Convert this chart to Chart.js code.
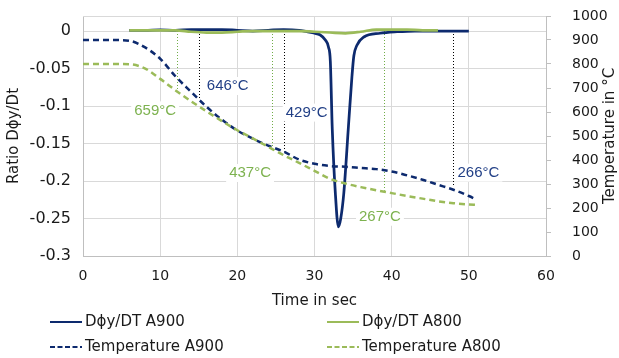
<!DOCTYPE html>
<html>
<head>
<meta charset="utf-8">
<script src="https://cdn.jsdelivr.net/npm/chart.js@4.4.1/dist/chart.umd.min.js"></script>
<style>
  html, body { margin: 0; padding: 0; background: #fff; }
  #wrap { width: 619px; height: 358px; }
</style>
</head>
<body>
<div id="wrap"><canvas id="chart" width="619" height="358"></canvas></div>
<script>
/* ===== Data ===== */
const tempTimes = [0, 2, 4, 6, 8, 10, 12, 14, 16, 18, 20, 22, 24, 26, 28, 30, 32, 34, 36, 38, 40, 42, 44, 46, 48, 50, 51];
const tempA900 = [900, 900, 900, 897, 870, 822, 748, 684, 622, 568, 523, 489, 460, 435, 402, 384, 375, 372, 367, 362, 352, 336, 318, 297, 276, 250, 235];
const tempA800 = [800, 800, 800, 799, 782, 738, 690, 645, 603, 562, 524, 490, 455, 420, 388, 355, 322, 302, 287, 274, 262, 250, 239, 228, 220, 215, 213];

const ratioTimesA900 = [6, 8, 10, 12, 14, 16, 18, 20, 22, 24, 26, 28, 29, 30, 30.7, 31.4, 31.8, 32.05, 32.3, 32.7, 33.1, 33.4, 33.8, 34.4, 34.85, 35.1, 35.5, 36.4, 38.5, 40.7, 43, 46, 48, 50];
const ratioA900 = [0.001, 0.001, 0.0015, 0.001, 0.002, 0.002, 0.002, 0.001, 0, 0.001, 0.002, 0.001, -0.001, -0.003, -0.005, -0.012, -0.021, -0.04, -0.13, -0.216, -0.261, -0.25, -0.216, -0.127, -0.061, -0.033, -0.019, -0.008, -0.003, -0.001, 0, 0, 0, 0];

const ratioTimesA800 = [6, 8, 10, 12, 14, 16, 18, 20, 22, 24, 26, 28, 30, 32, 34, 36, 38, 40, 42, 44, 46];
const ratioA800 = [0.001, 0.001, 0.001, 0.001, -0.001, -0.002, -0.002, -0.001, 0, 0, 0, 0, -0.001, -0.002, -0.003, -0.001, 0.002, 0.002, 0.002, 0.001, 0.001];

// vertical dotted markers: time, temperature where the line stops, label
const markerTimes = [12.2, 15, 24.5, 26, 39, 48];
const markerTemps = [686, 650, 450, 435, 272, 289];
const markerLabels = ["659°C", "646°C", "437°C", "429°C", "267°C", "266°C"];
const markerSeries = ["A800", "A900", "A800", "A900", "A800", "A900"];

const leftTicks = [-0.3, -0.25, -0.2, -0.15, -0.1, -0.05, 0];

/* ===== Styles ===== */
const BLUE = "#0d2a6e";
const GREEN = "#9bbb59";
const BLUE_TEXT = "#213f86";
const GREEN_TEXT = "#7db24f";
const GRID = "#d9d9d9";
const AXIS = "#bfbfbf";
const TEXT = "#404040";
const FONT = "'DejaVu Sans', sans-serif";
const LABEL_FONT = "'Liberation Sans', Arial, sans-serif";

// label offsets from the end of each marker line (px)
const labelOffsets = [[-22, 19], [29, -14], [-22, 25], [23, -39], [-4, 26], [25, -14]];

function pts(xs, ys) {
  return xs.map((x, i) => ({ x: x, y: ys[i] }));
}

// keep tick padding from pushing the plot area down
function noVPad(scale) {
  scale.paddingTop = 0;
  scale.paddingBottom = 0;
}

/* ===== Plugins ===== */
const frameAndMarkers = {
  id: "frameAndMarkers",
  beforeDatasetsDraw(chart) {
    const { ctx, chartArea: a, scales } = chart;
    ctx.save();
    ctx.strokeStyle = GRID;
    ctx.lineWidth = 1;
    ctx.beginPath();
    ctx.moveTo(a.left, a.top + 0.5);
    ctx.lineTo(a.right, a.top + 0.5);
    ctx.stroke();

    markerTimes.forEach((t, i) => {
      const x = Math.round(scales.x.getPixelForValue(t)) + 0.5;
      const y0 = scales.y.getPixelForValue(0);
      const y1 = scales.y2.getPixelForValue(markerTemps[i]);
      ctx.strokeStyle = markerSeries[i] === "A900" ? "#000" : "#70ad47";
      ctx.setLineDash([1, 2]);
      ctx.beginPath();
      ctx.moveTo(x, y0);
      ctx.lineTo(x, y1);
      ctx.stroke();
    });
    ctx.setLineDash([]);

    ctx.font = `15px ${LABEL_FONT}`;
    ctx.textAlign = "center";
    ctx.textBaseline = "middle";
    markerTimes.forEach((t, i) => {
      const x = scales.x.getPixelForValue(t) + labelOffsets[i][0];
      const y = scales.y2.getPixelForValue(markerTemps[i]) + labelOffsets[i][1];
      const w = ctx.measureText(markerLabels[i]).width + 6;
      ctx.fillStyle = "#fff";
      ctx.fillRect(x - w / 2, y - 9, w, 18);
      ctx.fillStyle = markerSeries[i] === "A900" ? BLUE_TEXT : GREEN_TEXT;
      ctx.fillText(markerLabels[i], x, y);
    });
    ctx.restore();
  },
  afterDraw(chart) {
    const { ctx, chartArea: a } = chart;
    ctx.save();
    // right axis title, reading upwards
    ctx.font = `15px ${FONT}`;
    ctx.fillStyle = "#1a1a1a";
    ctx.textAlign = "center";
    ctx.textBaseline = "middle";
    ctx.translate(610, (a.top + a.bottom) / 2);
    ctx.rotate(-Math.PI / 2);
    ctx.fillText("Temperature in °C", 0, 0);
    ctx.restore();

    // legend, two columns
    const cols = [50, 327];
    const rows = [322, 347];
    ctx.save();
    ctx.font = `15px ${FONT}`;
    ctx.textBaseline = "middle";
    ctx.textAlign = "left";
    chart.data.datasets.forEach((ds, i) => {
      const x = cols[i % 2];
      const y = rows[Math.floor(i / 2)];
      ctx.strokeStyle = ds.borderColor;
      ctx.lineWidth = 2;
      ctx.setLineDash(ds.borderDash && ds.borderDash.length ? [5, 2.5] : []);
      ctx.beginPath();
      ctx.moveTo(x, y);
      ctx.lineTo(x + 32, y);
      ctx.stroke();
      ctx.setLineDash([]);
      ctx.fillStyle = "#1a1a1a";
      ctx.fillText(ds.label, x + 35, y);
    });
    ctx.restore();
  },
};

/* ===== Chart ===== */
const ctx = document.getElementById("chart").getContext("2d");

new Chart(ctx, {
  type: "line",
  data: {
    datasets: [
      {
        label: "Dϕy/DT A900",
        data: pts(ratioTimesA900, ratioA900),
        yAxisID: "y",
        borderColor: BLUE,
        borderWidth: 2.75,
        cubicInterpolationMode: "monotone",
        pointRadius: 0,
        order: 4,
      },
      {
        label: "Dϕy/DT A800",
        data: pts(ratioTimesA800, ratioA800),
        yAxisID: "y",
        borderColor: GREEN,
        borderWidth: 2.75,
        cubicInterpolationMode: "monotone",
        pointRadius: 0,
        order: 3,
      },
      {
        label: "Temperature A900",
        data: pts(tempTimes, tempA900),
        yAxisID: "y2",
        borderColor: BLUE,
        borderWidth: 2.5,
        borderDash: [6, 4],
        cubicInterpolationMode: "monotone",
        pointRadius: 0,
        order: 2,
      },
      {
        label: "Temperature A800",
        data: pts(tempTimes, tempA800),
        yAxisID: "y2",
        borderColor: GREEN,
        borderWidth: 2.5,
        borderDash: [6, 4],
        cubicInterpolationMode: "monotone",
        pointRadius: 0,
        order: 1,
      },
    ],
  },
  options: {
    responsive: false,
    animation: false,
    events: [],
    layout: { padding: { top: 16, bottom: 48, left: 0, right: 0 } },
    plugins: { legend: { display: false }, tooltip: { enabled: false } },
    scales: {
      x: {
        type: "linear",
        min: 0,
        max: 60,
        ticks: { stepSize: 10, color: "#1a1a1a", font: { family: FONT, size: 14 }, padding: 12 },
        grid: { color: GRID, drawTicks: false },
        border: { color: AXIS },
        title: { display: true, text: "Time in sec", color: "#1a1a1a", font: { family: FONT, size: 15 }, padding: { bottom: 0 } },
        afterFit(scale) { scale.height = 54; },
      },
      y: {
        position: "left",
        min: -0.3,
        max: 0.02,
        afterBuildTicks(scale) { scale.ticks = leftTicks.map((v) => ({ value: v })); },
        ticks: {
          color: "#1a1a1a",
          font: { family: FONT, size: 16 },
          padding: 12,
          callback: (v) => String(Number(Number(v).toFixed(2))),
        },
        grid: { color: GRID, drawTicks: false },
        border: { color: AXIS },
        title: { display: true, text: "Ratio Dϕy/Dt", color: "#1a1a1a", font: { family: FONT, size: 15 }, padding: { top: 5 } },
        afterFit(scale) { scale.width = 83; noVPad(scale); },
      },
      y2: {
        position: "right",
        min: 0,
        max: 1000,
        ticks: { stepSize: 100, color: "#1a1a1a", font: { family: FONT, size: 14 }, padding: 21, callback: (v) => String(v) },
        grid: { drawOnChartArea: false, color: AXIS, tickLength: 5 },
        border: { color: AXIS },
        afterFit(scale) { scale.width = 73; noVPad(scale); },
      },
    },
  },
  plugins: [frameAndMarkers],
});
</script>
</body>
</html>
